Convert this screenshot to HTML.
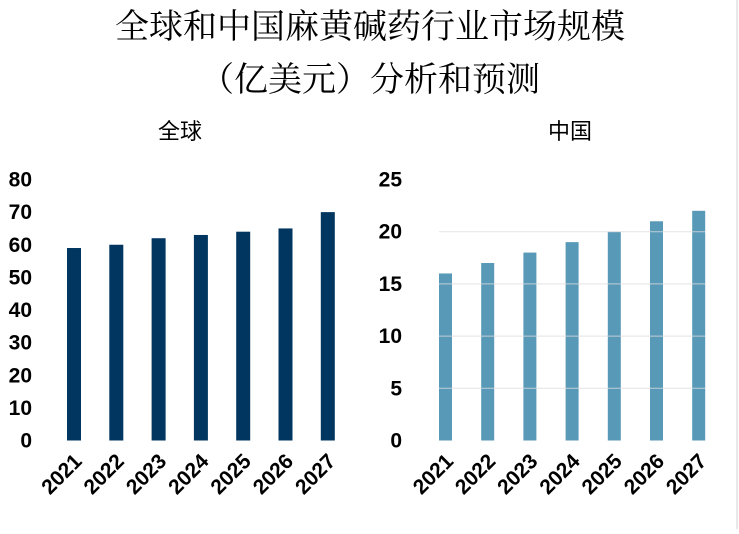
<!DOCTYPE html>
<html><head><meta charset="utf-8"><style>
body{margin:0;background:#fff;width:739px;height:529px;overflow:hidden;font-family:"Liberation Sans","Noto Sans CJK SC",sans-serif}
svg text{font-family:"Liberation Sans","Noto Sans CJK SC",sans-serif}
svg text.serif{font-family:"Liberation Serif","Noto Serif CJK SC",serif}
</style></head><body>
<svg id="c" width="739" height="529">
<line x1="737" y1="0" x2="737" y2="529" stroke="#d0d0d0"/>
<text class="serif" x="370" y="38" font-size="34" text-anchor="middle">全球和中国麻黄碱药行业市场规模</text>
<text class="serif" x="370" y="91" font-size="34" text-anchor="middle">（亿美元）分析和预测</text>
<text x="180" y="139" font-size="22" text-anchor="middle">全球</text>
<text x="570" y="139" font-size="22" text-anchor="middle">中国</text>
</svg>
<script>
const years=["2021","2022","2023","2024","2025","2026","2027"];
const globalVals=[59,60,62,63,64,65,70];
const chinaVals=[16,17,18,19,20,21,22];
const globalTicks=[0,10,20,30,40,50,60,70,80];
const chinaTicks=[0,5,10,15,20,25];
const svg=document.getElementById('c');
const NS='http://www.w3.org/2000/svg';
function mk(t,a){const e=document.createElementNS(NS,t);for(const k in a)e.setAttribute(k,a[k]);svg.appendChild(e);return e;}
function panel(vals,ticks,max,x0,step,bw,color,labelX,name,grid){
  const y0=440.5,h=261;
  const y=v=>y0-v/max*h;
  const x=i=>x0+i*step;
  ticks.forEach(t=>{
    const tx=mk('text',{x:labelX,y:y(t)+7,'font-size':21,'text-anchor':'end','font-weight':'bold'});tx.textContent=t;
    
    
  });
  vals.forEach((v,i)=>{
    const r=mk('rect',{x:x(i)-bw/2,y:y(v),width:bw,height:y0-y(v),fill:color});
    
    
    const t=mk('text',{'font-size':21,'font-weight':'bold','text-anchor':'end',transform:`translate(${x(i)+9},${y0+22}) rotate(-45)`});
    t.textContent=years[i];
    
    
  });
  if(grid) ticks.forEach(t=>{
    if(t>0&&t<max){const g=mk('line',{x1:x0-bw/2,x2:x(6)+bw/2,y1:y(t),y2:y(t),stroke:'#dcdcdc','stroke-opacity':0.8});
    
    }
  });
}
panel(globalVals,globalTicks,80,74,42.3,14,'#003660',32,'global',false);
panel(chinaVals,chinaTicks,25,445.5,42.2,13,'#5899b8',402,'china',true);
</script>
</body></html>
